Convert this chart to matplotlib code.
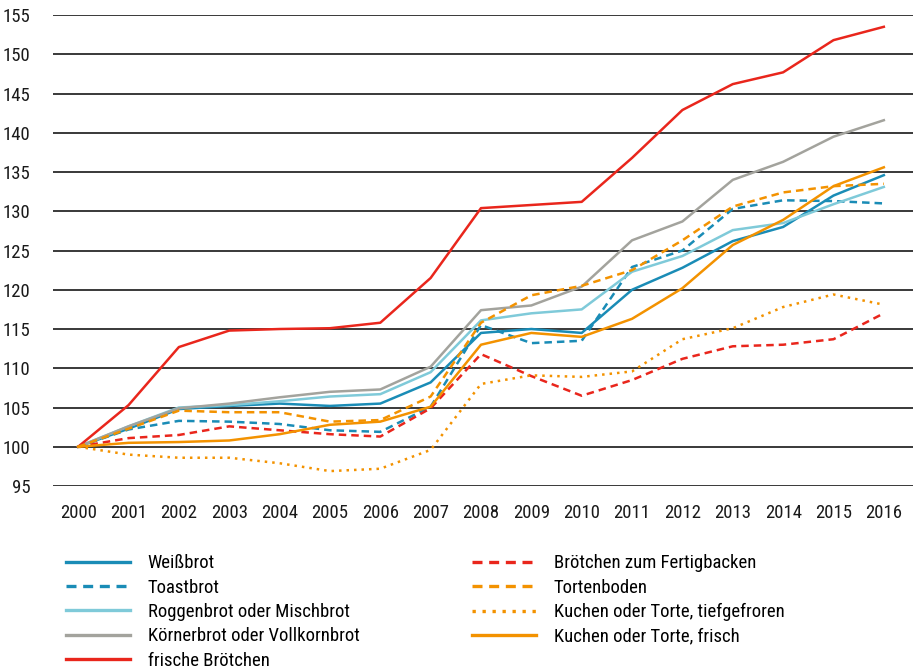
import matplotlib.pyplot as plt

plt.rcParams['font.family'] = ['Roboto Condensed', 'Liberation Sans Narrow', 'Roboto', 'DejaVu Sans']

# Jahre
jahre = list(range(2000, 2017))

# Preisindex (2000 = 100)
weissbrot = [100, 102.3, 104.8, 105.2, 105.5, 105.2, 105.5, 108.2, 114.5, 115.0, 114.5,
             120.0, 122.8, 126.2, 128.0, 132.0, 134.6]
toastbrot = [100, 102.2, 103.3, 103.2, 102.9, 102.1, 101.9, 105.1, 115.5, 113.2, 113.5,
             122.9, 125.0, 130.3, 131.4, 131.3, 131.0]
roggenbrot = [100, 102.6, 105.0, 105.3, 105.8, 106.4, 106.7, 109.5, 116.1, 117.0, 117.5,
              122.3, 124.3, 127.6, 128.5, 130.9, 133.1]
koernerbrot = [100, 102.6, 104.9, 105.5, 106.3, 107.0, 107.3, 110.2, 117.4, 118.0, 120.4,
               126.3, 128.7, 134.0, 136.3, 139.5, 141.6]
frische_broetchen = [100, 105.3, 112.7, 114.8, 115.0, 115.1, 115.8, 121.5, 130.4, 130.8, 131.2,
                     136.8, 142.9, 146.2, 147.7, 151.8, 153.5]
broetchen_fertig = [100, 101.1, 101.5, 102.6, 102.1, 101.6, 101.3, 104.9, 111.8, 109.0, 106.5,
                    108.5, 111.2, 112.8, 113.0, 113.7, 117.0]
tortenboden = [100, 102.3, 104.6, 104.4, 104.4, 103.2, 103.4, 106.4, 115.8, 119.3, 120.5,
               122.5, 126.3, 130.6, 132.4, 133.2, 133.5]
kuchen_tk = [100, 99.0, 98.6, 98.6, 97.9, 96.9, 97.2, 99.6, 108.0, 109.1, 108.9,
             109.6, 113.7, 115.1, 117.8, 119.4, 118.1]
kuchen_frisch = [100, 100.5, 100.6, 100.8, 101.6, 102.8, 103.2, 105.1, 113.0, 114.5, 114.0,
                 116.3, 120.2, 125.7, 128.9, 133.2, 135.6]

blau = '#1a8cb6'
hellblau = '#7fcad9'
grau = '#a3a39d'
rot = '#e9261c'
orange = '#f39200'

fig = plt.figure(figsize=(9.18, 6.71), dpi=100)
ax = fig.add_axes([0.0577, 0.2757, 0.9369, 0.7019])

lw = 1.8
ax.plot(jahre, weissbrot, color=blau, lw=lw, label='Weißbrot')
ax.plot(jahre, toastbrot, color=blau, lw=lw, ls=(0, (3, 2)), label='Toastbrot')
ax.plot(jahre, roggenbrot, color=hellblau, lw=lw, label='Roggenbrot oder Mischbrot')
ax.plot(jahre, koernerbrot, color=grau, lw=lw, label='Körnerbrot oder Vollkornbrot')
ax.plot(jahre, frische_broetchen, color=rot, lw=lw, label='frische Brötchen')
ax.plot(jahre, broetchen_fertig, color=rot, lw=lw, ls=(0, (3, 2)), label='Brötchen zum Fertigbacken')
ax.plot(jahre, tortenboden, color=orange, lw=lw, ls=(0, (3, 2)), label='Tortenboden')
ax.plot(jahre, kuchen_tk, color=orange, lw=lw, ls=(0, (1, 2)), label='Kuchen oder Torte, tiefgefroren')
ax.plot(jahre, kuchen_frisch, color=orange, lw=lw, label='Kuchen oder Torte, frisch')

ax.set_xlim(1999.5, 2016.58)
ax.set_ylim(95, 155)
ax.set_yticks(range(95, 156, 5))
ax.set_xticks(jahre)
ax.yaxis.grid(True, color='#2a2a2a', lw=1.3)
ax.set_axisbelow(True)
for s in ax.spines.values():
    s.set_visible(False)
ax.tick_params(length=0, labelsize=13.5, colors='#1a1a1a', pad=13)
ax.tick_params(axis='y', pad=16)

leg = fig.legend(loc='upper left', bbox_to_anchor=(0.072, 0.174), ncol=2, frameon=False,
                 fontsize=13.5, handlelength=3.4, handletextpad=0.95, columnspacing=6.0,
                 labelspacing=0.34, borderpad=0, borderaxespad=0)
for h in leg.get_lines():
    h.set_linewidth(2.4)

fig.savefig('out.png', dpi=100)
